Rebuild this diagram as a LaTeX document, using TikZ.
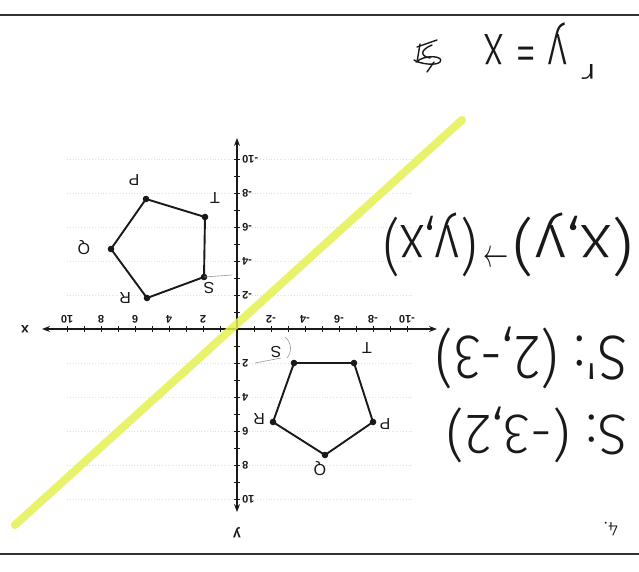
\documentclass[tikz,border=0pt]{standalone}
\usepackage{fontspec}
\setmainfont{Liberation Sans}
\newfontfamily\handfont[Kerning=Off]{Fira Sans Light}
\usetikzlibrary{arrows.meta}
\definecolor{hl}{RGB}{228,240,80}
\definecolor{ink}{RGB}{25,25,25}
\begin{document}
\begin{tikzpicture}[x=1pt,y=-1pt,
  rlbl/.style={rotate=180, inner sep=0pt, text=ink},
  hlbl/.style={rlbl, font=\handfont},
  axlbl/.style={rlbl, font=\fontsize{11}{11}\selectfont\bfseries},
  ptlbl/.style={rlbl, font=\fontsize{16}{16}\selectfont},
  axisline/.style={line width=1.1pt, ink, {Stealth[length=8pt,width=6pt]}-{Stealth[length=8pt,width=6pt]}},
  tickline/.style={line width=0.8pt, ink},
  poly/.style={line width=1.9pt, ink, line join=round},
  dot/.style={fill=ink},
  frameline/.style={line width=1.6pt, black!80},
  gridline/.style={gray!25, dotted, line width=0.8pt},
  hand/.style={line width=1.4pt, ink, line cap=round, line join=round},
  thinmark/.style={line width=0.6pt, gray!80}]
\useasboundingbox (0,0) rectangle (639,571);
\fill[white] (0,0) rectangle (639,571);

% frame lines
\coordinate (tl) at (0,15); \coordinate (tr) at (639,15);
\coordinate (bl) at (0,554); \coordinate (br) at (639,554);
\draw[frameline] (tl) -- (tr);
\draw[frameline] (bl) -- (br);

% faint grid
\foreach \k in {-5,-4,-3,-2,-1,1,2,3,4,5}
  \draw[gridline] (67,{329+34*\k}) -- (413,{329+34*\k});

% axes
\coordinate (O) at (237,329);
\coordinate (xl) at (42,329); \coordinate (xr) at (437,329);
\coordinate (yt) at (237,138); \coordinate (yb) at (237,512);
\draw[axisline] (xr) -- (xl);
\draw[axisline] (yt) -- (yb);
\foreach \i in {-10,...,-1,1,2,...,10} {
  \draw[tickline] ({237-17*\i},326) -- ({237-17*\i},332);
  \draw[tickline] (234,{329+17*\i}) -- (240,{329+17*\i});
}
\foreach \i in {-10,-8,-6,-4,-2,2,4,6,8,10} {
  \node[axlbl] (xt\i) at ({237-17*\i},319) {\i};
  \node[axlbl, anchor=east] (yt\i) at (242,{329+17*\i}) {\i};
}
\node[rlbl, font=\fontsize{14}{14}\selectfont\bfseries] (xlab) at (25,329) {x};
\node[rlbl, font=\fontsize{14}{14}\selectfont\bfseries] (ylab) at (237,533) {y};

% pentagon 1 (original)
\coordinate (S1) at (294,363); \coordinate (T1) at (354,363);
\coordinate (P1) at (373,422); \coordinate (Q1) at (325,455);
\coordinate (R1) at (273,422);
\draw[poly] (S1) -- (T1) -- (P1) -- (Q1) -- (R1) -- cycle;
\foreach \p in {S1,T1,P1,Q1,R1} \fill[dot] (\p) circle (3.3);
\node[ptlbl] (lS1) at (276,352) {S};
\node[ptlbl] (lT1) at (367,348) {T};
\node[ptlbl] (lP1) at (385,424) {P};
\node[ptlbl] (lQ1) at (320,469) {Q};
\node[ptlbl] (lR1) at (259,419) {R};
\coordinate (c1a) at (285,337); \coordinate (c1b) at (287,358);
\draw[thinmark] (c1a) .. controls (292,343) and (292,352) .. (c1b);
\coordinate (m1a) at (255,363); \coordinate (m1b) at (281,358);
\draw[thinmark] (m1a) -- (m1b);

% pentagon 2 (image)
\coordinate (S2) at (204,277); \coordinate (T2) at (205,217);
\coordinate (P2) at (146,199); \coordinate (Q2) at (111,249);
\coordinate (R2) at (147,298);
\draw[poly] (S2) -- (T2) -- (P2) -- (Q2) -- (R2) -- cycle;
\foreach \p in {S2,T2,P2,Q2,R2} \fill[dot] (\p) circle (3.3);
\node[ptlbl] (lT2) at (215,198) {T};
\node[ptlbl] (lP2) at (134,180) {P};
\node[ptlbl] (lQ2) at (84,248) {Q};
\node[ptlbl] (lR2) at (125,298) {R};
\node[ptlbl] (lS2) at (209,288) {S};
\coordinate (m2b) at (232,275);
\draw[thinmark] (S2) -- (m2b);

% line y = x
\coordinate (hA) at (15,525); \coordinate (hB) at (462,120);
\draw[hl, line width=8pt, opacity=0.85, line cap=round] (hA) -- (hB);

% handwritten texts
\node[hlbl] (mapb) at (430,245) {\resizebox*{94pt}{64pt}{(y,x)}};
\node[rlbl] (mapar) at (496,254) {\resizebox*{25pt}{15pt}{$\to$}};
\node[hlbl] (mapa) at (573,245) {\resizebox*{120pt}{64pt}{(x,y)}};
\node[hlbl] (sp) at (531,358) {\resizebox*{192pt}{62pt}{S': (2,-3)}};
\node[hlbl] (s) at (537,435) {\resizebox*{180pt}{56pt}{S: (-3,2)}};
\node[hlbl, font=\handfont\fontsize{20}{20}\selectfont] (num) at (611,529) {4.};
\node[hlbl] (r) at (589,72) {\resizebox*{16pt}{15pt}{r}};
\node[hlbl] (yx) at (526,44) {\resizebox*{83pt}{42pt}{y = x}};

% scribble
\draw[hand] (417,47) -- (437,40);
\draw[hand] (420,44) -- (417,62);
\draw[hand] (432,45) .. controls (420,50) and (420,56) .. (430,58);
\draw[hand] (416,62) .. controls (425,54) and (445,56) .. (440,62) .. controls (436,66) and (420,64) .. (414,60);
\draw[hand] (434,62) -- (427,72);
\end{tikzpicture}
\end{document}
